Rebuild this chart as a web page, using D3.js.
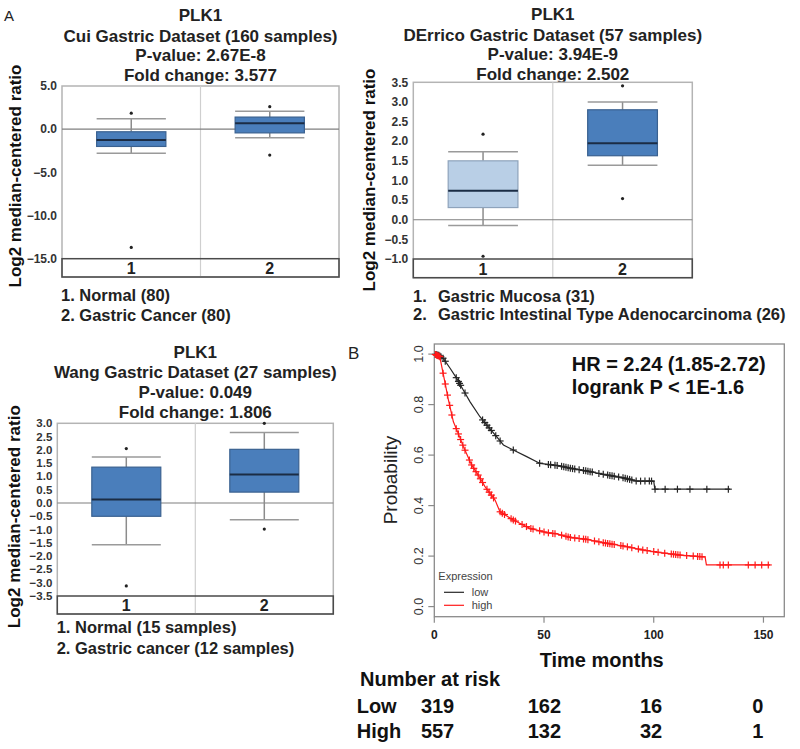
<!DOCTYPE html>
<html>
<head>
<meta charset="utf-8">
<script src="https://cdn.jsdelivr.net/npm/d3@7"></script>
<style>
  html, body { margin: 0; padding: 0; background: #fff; }
  svg { display: block; font-family: "Liberation Sans", Arial, Helvetica, sans-serif; }
</style>
</head>
<body>
<svg id="fig" width="800" height="749"></svg>
<script>
// ---------------- DATA ----------------
const boxCategories = ["1", "2"];

// box stats: [lowWhisker, q1, median, q3, highWhisker]
const cuiBoxes = [[-2.8, -2.0, -1.25, -0.3, 1.2], [-1.0, -0.43, 0.7, 1.4, 2.07]];
const cuiOutliers = [[1.85, -13.7], [2.6, -3.0]];
const cuiTicks = [5, 0, -5, -10, -15];
const cuiTitles = ["PLK1", "Cui Gastric Dataset (160 samples)", "P-value: 2.67E-8", "Fold change: 3.577"];
const cuiLegend = ["1. Normal (80)", "2. Gastric Cancer (80)"];

const derricoBoxes = [[-0.15, 0.31, 0.74, 1.5, 1.73], [1.39, 1.63, 1.95, 2.8, 3.0]];
const derricoOutliers = [[2.18, -0.93], [3.41, 0.54]];
const derricoTicks = [3.5, 3.0, 2.5, 2.0, 1.5, 1.0, 0.5, 0.0, -0.5, -1.0];
const derricoTitles = ["PLK1", "DErrico Gastric Dataset (57 samples)", "P-value: 3.94E-9", "Fold change: 2.502"];
const derricoLegendNums = ["1.", "2."];
const derricoLegend = ["Gastric Mucosa (31)", "Gastric Intestinal Type Adenocarcinoma (26)"];

const wangBoxes = [[-1.57, -0.5, 0.13, 1.35, 1.73], [-0.63, 0.41, 1.07, 2.02, 2.65]];
const wangOutliers = [[2.05, -3.12], [3.0, -0.98]];
const wangTicks = [3.0, 2.5, 2.0, 1.5, 1.0, 0.5, 0.0, -0.5, -1.0, -1.5, -2.0, -2.5, -3.0, -3.5];
const wangTitles = ["PLK1", "Wang Gastric Dataset (27 samples)", "P-value: 0.049", "Fold change: 1.806"];
const wangLegend = ["1. Normal (15 samples)", "2. Gastric cancer (12 samples)"];

// Kaplan-Meier curves: [time months, probability]
const kmLowCurve = [[0,1.0],[2,0.995],[4.1,0.983],[7.2,0.944],[10.2,0.904],[13.2,0.858],[16.3,0.811],
  [20.8,0.752],[24.6,0.712],[28.4,0.673],[31.5,0.64],[36,0.62],[42.1,0.594],[48.2,0.567],[57.3,0.557],
  [61.9,0.548],[69.5,0.537],[77,0.524],[86.1,0.51],[92.2,0.497],[100,0.497],[100.5,0.465],[134.8,0.465]];
const kmHighCurve = [[0,1.0],[2.5,0.99],[3.4,0.95],[4.9,0.886],[6.4,0.82],[8.7,0.732],[10.9,0.686],
  [13.2,0.635],[17,0.561],[20,0.521],[23.1,0.475],[27.7,0.422],[29.9,0.376],[36,0.343],[43.6,0.31],
  [51.2,0.293],[55.8,0.288],[61.9,0.274],[69.5,0.266],[77,0.253],[86.1,0.24],[95.3,0.224],[102.9,0.214],
  [112,0.204],[122.6,0.197],[123.4,0.197],[124,0.165],[153,0.165]];
const kmLowCensor = [0.5,1,1.5,2,2.5,3,4,5,10,11,11.5,12,14,22,23,24,25,26,28,30,36,48,52,53,55,56,58,59,
  60,61,62,63,64,66,68,69,70,71,72,75,77,79,80,81,82,84,86,87,88,89,90,92,94,96,98,99,
  100.6,105.2,110.8,116.5,124.2,134];
const kmHighCensor = [0.5,1,1.5,2,2.5,4,5,6,7,8,10,11,12,13,14,16,17,18,19,20,21,22,24,25,26,27,30,31,32,
  35,36,37,40,42,44,45,48,50,52,54,55,58,60,61,62,64,66,68,69,70,73,75,77,78,79,80,81,82,85,86,88,90,93,
  95,97,100,102,105,108,109,110,111,112,115,118,120,121,122,130.2,131.7,134,143.1,146.2,149.2,152.2];
const kmXTicks = [0, 50, 100, 150];
const kmYTicks = [0.0, 0.2, 0.4, 0.6, 0.8, 1.0];
const kmGroups = ["low", "high"];
const kmStatText = ["HR = 2.24 (1.85-2.72)", "logrank P < 1E-1.6"];
const riskTimes = [0, 50, 100, 150];
const riskLow = [319, 162, 16, 0];
const riskHigh = [557, 132, 32, 1];

// ---------------- DRAW ----------------
const svg = d3.select("#fig");

function boxPanel(cfg) {
  const g = svg.append("g");
  const y = d3.scaleLinear().domain(cfg.domain).range([cfg.valBottom, cfg.top]);
  const x = d3.scaleBand().domain(boxCategories).range([cfg.left, cfg.right]);
  const bw = x.bandwidth() * 0.5;

  cfg.titles.forEach((t, i) => {
    g.append("text").attr("x", (cfg.left + cfg.right) / 2).attr("y", cfg.titleY[i])
      .attr("text-anchor", "middle").attr("font-size", 17).attr("font-weight", "bold")
      .attr("fill", "#222").text(t);
  });

  g.append("rect").attr("x", cfg.left).attr("y", cfg.top)
    .attr("width", cfg.right - cfg.left).attr("height", cfg.stripBottom - cfg.top)
    .attr("fill", "none").attr("stroke", "#b4b4b4").attr("stroke-width", 1.5);
  g.append("line").attr("x1", x("2")).attr("x2", x("2")).attr("y1", cfg.top).attr("y2", cfg.stripBottom)
    .attr("stroke", "#cfcfcf").attr("stroke-width", 1.2);
  g.append("line").attr("x1", cfg.left).attr("x2", cfg.right).attr("y1", y(0)).attr("y2", y(0))
    .attr("stroke", "#7f7f7f").attr("stroke-width", 1.2);

  cfg.boxes.forEach((b, i) => {
    const cx = x(boxCategories[i]) + x.bandwidth() / 2;
    const x0 = cx - bw / 2, x1 = cx + bw / 2;
    const [lw, q1, md, q3, hw] = b;
    g.append("line").attr("x1", cx).attr("x2", cx).attr("y1", y(q3)).attr("y2", y(hw))
      .attr("stroke", "#8c8c8c").attr("stroke-width", 1.5);
    g.append("line").attr("x1", cx).attr("x2", cx).attr("y1", y(q1)).attr("y2", y(lw))
      .attr("stroke", "#8c8c8c").attr("stroke-width", 1.5);
    [hw, lw].forEach(v => g.append("line").attr("x1", x0).attr("x2", x1).attr("y1", y(v)).attr("y2", y(v))
      .attr("stroke", "#9a9a9a").attr("stroke-width", 1.5));
    g.append("rect").attr("x", x0).attr("y", y(q3)).attr("width", bw).attr("height", y(q1) - y(q3))
      .attr("fill", cfg.fills[i]).attr("stroke", cfg.strokes[i]).attr("stroke-width", 1.2);
    g.append("line").attr("x1", x0).attr("x2", x1).attr("y1", y(md)).attr("y2", y(md))
      .attr("stroke", "#1b2c44").attr("stroke-width", 2);
    cfg.outliers[i].forEach(v => g.append("circle").attr("cx", cx).attr("cy", y(v)).attr("r", 1.6)
      .attr("fill", "#222"));
  });

  g.append("rect").attr("x", cfg.left).attr("y", cfg.valBottom)
    .attr("width", cfg.right - cfg.left).attr("height", cfg.stripBottom - cfg.valBottom)
    .attr("fill", "none").attr("stroke", "#4a4a4a").attr("stroke-width", 1.5);
  boxCategories.forEach(c => {
    g.append("text").attr("x", x(c) + x.bandwidth() / 2).attr("y", cfg.stripBottom - 3)
      .attr("text-anchor", "middle").attr("font-size", 16).attr("font-weight", "bold")
      .attr("fill", "#222").text(c);
  });

  cfg.ticks.forEach(v => {
    g.append("text").attr("x", cfg.left - 5).attr("y", y(v)).attr("dy", "0.35em")
      .attr("text-anchor", "end").attr("font-size", cfg.tickSize).attr("font-weight", "bold")
      .attr("fill", "#333").text(d3.format(".1f")(v));
  });

  g.append("text").attr("transform", `translate(${cfg.yTitle[0]},${cfg.yTitle[1]}) rotate(-90)`)
    .attr("text-anchor", "middle").attr("font-size", 17).attr("font-weight", "bold")
    .attr("fill", "#111").text("Log2 median-centered ratio");
  return g;
}

const gA1 = boxPanel({
  left: 62, right: 339, top: 86, valBottom: 258.7, stripBottom: 277, domain: [-15, 5],
  ticks: cuiTicks, boxes: cuiBoxes, outliers: cuiOutliers, titles: cuiTitles,
  titleY: [21, 41.5, 61, 80.5], fills: ["#4a7ebb", "#4a7ebb"], strokes: ["#3a6190", "#3a6190"],
  tickSize: 12, yTitle: [21, 176]
});
cuiLegend.forEach((t, i) => gA1.append("text").attr("x", 61).attr("y", 301 + i * 19.5)
  .attr("font-size", 16.5).attr("font-weight", "bold").attr("fill", "#222").text(t));

const gA2 = boxPanel({
  left: 413.3, right: 692.3, top: 82.3, valBottom: 259, stripBottom: 277.7, domain: [-1, 3.5],
  ticks: derricoTicks, boxes: derricoBoxes, outliers: derricoOutliers, titles: derricoTitles,
  titleY: [20, 40.5, 60, 80], fills: ["#b9cfe6", "#4a7ebb"], strokes: ["#8ea3bb", "#3a6190"],
  tickSize: 12, yTitle: [375, 180]
});
derricoLegend.forEach((t, i) => {
  gA2.append("text").attr("x", 413).attr("y", 301.5 + i * 18.5)
    .attr("font-size", 16.5).attr("font-weight", "bold").attr("fill", "#222").text(derricoLegendNums[i]);
  gA2.append("text").attr("x", 438).attr("y", 301.5 + i * 18.5)
    .attr("font-size", 16.5).attr("font-weight", "bold").attr("fill", "#222").text(t);
});

const gA3 = boxPanel({
  left: 57.3, right: 333.3, top: 423.3, valBottom: 596, stripBottom: 614, domain: [-3.5, 3],
  ticks: wangTicks, boxes: wangBoxes, outliers: wangOutliers, titles: wangTitles,
  titleY: [358, 378, 398, 417.5], fills: ["#4a7ebb", "#4a7ebb"], strokes: ["#3a6190", "#3a6190"],
  tickSize: 11.5, yTitle: [20, 516.7]
});
wangLegend.forEach((t, i) => gA3.append("text").attr("x", 56.7).attr("y", 632.7 + i * 21)
  .attr("font-size", 16.5).attr("font-weight", "bold").attr("fill", "#222").text(t));

svg.append("text").attr("x", 4).attr("y", 20.5).attr("font-size", 15).attr("fill", "#222").text("A");
svg.append("text").attr("x", 348).attr("y", 358.5).attr("font-size", 17).attr("fill", "#222").text("B");

// ---------------- Kaplan-Meier ----------------
const km = { left: 434.3, right: 784.3, top: 344, bottom: 616.7 };
const xKM = d3.scaleLinear().domain([0, 159.5]).range([km.left, km.right]);
const yKM = d3.scaleLinear().domain([-0.04, 1.04]).range([km.bottom, km.top]);
const gB = svg.append("g");

gB.append("rect").attr("x", km.left).attr("y", km.top).attr("width", km.right - km.left)
  .attr("height", km.bottom - km.top).attr("fill", "none").attr("stroke", "#8a8a8a").attr("stroke-width", 1.3);

kmYTicks.forEach(v => {
  gB.append("line").attr("x1", km.left - 6).attr("x2", km.left).attr("y1", yKM(v)).attr("y2", yKM(v))
    .attr("stroke", "#8a8a8a").attr("stroke-width", 1.2);
  gB.append("text").attr("transform", `translate(423,${yKM(v)}) rotate(-90)`).attr("text-anchor", "middle")
    .attr("font-size", 12.5).attr("fill", "#333").text(d3.format(".1f")(v));
});
kmXTicks.forEach(v => {
  gB.append("line").attr("x1", xKM(v)).attr("x2", xKM(v)).attr("y1", km.bottom).attr("y2", km.bottom + 6)
    .attr("stroke", "#8a8a8a").attr("stroke-width", 1.2);
  gB.append("text").attr("x", xKM(v)).attr("y", 639).attr("text-anchor", "middle")
    .attr("font-size", 12).attr("font-weight", "bold").attr("fill", "#222").text(v);
});

function interp(curve, t) {
  for (let i = curve.length - 1; i >= 0; i--) {
    if (curve[i][0] <= t) {
      const a = curve[i], b = curve[i + 1];
      if (!b) return a[1];
      if (b[0] === a[0]) return b[1];
      return a[1] + (b[1] - a[1]) * (t - a[0]) / (b[0] - a[0]);
    }
  }
  return curve[0][1];
}

const kmLine = d3.line().x(d => xKM(d[0])).y(d => yKM(d[1]));
const kmSets = [
  { curve: kmLowCurve, censor: kmLowCensor, color: "#262626" },
  { curve: kmHighCurve, censor: kmHighCensor, color: "#ff1a1a" }
];
kmSets.forEach(s => {
  gB.append("path").attr("d", kmLine(s.curve)).attr("fill", "none").attr("stroke", s.color).attr("stroke-width", 1.2);
  s.censor.forEach(t => {
    const cx = xKM(t), cy = yKM(interp(s.curve, t));
    gB.append("line").attr("x1", cx - 3.5).attr("x2", cx + 3.5).attr("y1", cy).attr("y2", cy)
      .attr("stroke", s.color).attr("stroke-width", 1.2);
    gB.append("line").attr("x1", cx).attr("x2", cx).attr("y1", cy - 3.5).attr("y2", cy + 3.5)
      .attr("stroke", s.color).attr("stroke-width", 1.2);
  });
});

gB.append("text").attr("x", 438.3).attr("y", 580).attr("font-size", 11).attr("fill", "#444").text("Expression");
kmGroups.forEach((grp, i) => {
  const ly = 592.3 + i * 13;
  gB.append("line").attr("x1", 444).attr("x2", 464).attr("y1", ly).attr("y2", ly)
    .attr("stroke", kmSets[i].color).attr("stroke-width", 1.2);
  gB.append("text").attr("x", 471.7).attr("y", ly + 4).attr("font-size", 11).attr("fill", "#444").text(grp);
});

kmStatText.forEach((t, i) => gB.append("text").attr("x", 571.7).attr("y", 370.7 + i * 23.5)
  .attr("font-size", 20).attr("font-weight", "bold").attr("fill", "#111").text(t));

gB.append("text").attr("transform", "translate(396.7,480) rotate(-90)").attr("text-anchor", "middle")
  .attr("font-size", 19).attr("fill", "#222").text("Probability");
gB.append("text").attr("x", 601.7).attr("y", 667).attr("text-anchor", "middle")
  .attr("font-size", 20).attr("font-weight", "bold").attr("fill", "#111").text("Time months");

gB.append("text").attr("x", 360).attr("y", 686).attr("font-size", 20).attr("font-weight", "bold")
  .attr("fill", "#111").text("Number at risk");
[["Low", riskLow, 713], ["High", riskHigh, 737.5]].forEach(([lab, vals, yy]) => {
  gB.append("text").attr("x", 356.7).attr("y", yy).attr("font-size", 20).attr("font-weight", "bold")
    .attr("fill", "#111").text(lab);
  vals.forEach((v, i) => gB.append("text").attr("x", xKM(riskTimes[i]) * 0.973 + 15).attr("y", yy)
    .attr("text-anchor", "middle").attr("font-size", 20).attr("font-weight", "bold")
    .attr("fill", "#111").text(v));
});
</script>
</body>
</html>
